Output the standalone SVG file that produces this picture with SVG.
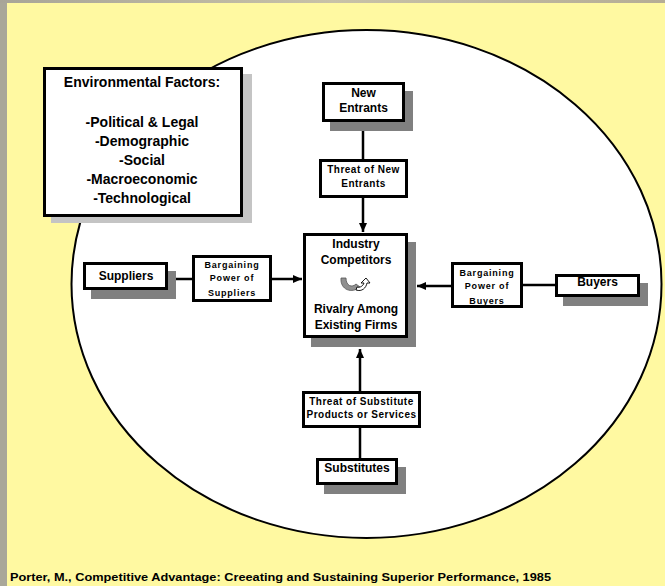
<svg xmlns="http://www.w3.org/2000/svg" width="665" height="586" viewBox="0 0 665 586">
<defs>
<linearGradient id="topbar" x1="0" y1="0" x2="1" y2="0">
<stop offset="0" stop-color="#A8A598"/>
<stop offset="0.5" stop-color="#C8C2A8"/>
<stop offset="1" stop-color="#B5AD96"/>
</linearGradient>
<marker id="ah" markerUnits="userSpaceOnUse" markerWidth="10" markerHeight="10" refX="9" refY="5" orient="auto">
<path d="M0,1 L9,5 L0,9 z" fill="#000"/>
</marker>
</defs>
<style>
.box{fill:#fff;stroke:#000;stroke-width:3}
.sh{fill:#808080}
.t{font-family:"Liberation Sans",Arial,sans-serif;font-weight:bold;fill:#000;text-anchor:middle}
.m{font-size:12px}
.s{font-size:9px;letter-spacing:0.8px}
.q{font-size:10px;letter-spacing:0.5px}
.e{font-size:14px}
.c line{stroke:#000;stroke-width:2.5}
</style>
<rect x="0" y="0" width="665" height="586" fill="#A9A799"/>
<rect x="0" y="0" width="665" height="3" fill="url(#topbar)"/>
<rect x="7" y="3" width="658" height="583" fill="#FFF9A1"/>
<ellipse cx="366.5" cy="284" rx="295" ry="254" fill="#fff" stroke="#000" stroke-width="2"/>

<g id="env">
<rect x="51" y="74" width="201" height="149" fill="#C4C4C4"/>
<rect class="box" x="44.5" y="68.5" width="197" height="147"/>
<text class="t e" x="142" y="87">Environmental Factors:</text>
<text class="t e" x="142" y="126.5">-Political &amp; Legal</text>
<text class="t e" x="142" y="145.5">-Demographic</text>
<text class="t e" x="142" y="164.5">-Social</text>
<text class="t e" x="142" y="183.5">-Macroeconomic</text>
<text class="t e" x="142" y="202.5">-Technological</text>
</g>

<g class="c" id="connectors">
<line x1="363" y1="122" x2="363" y2="159"/>
<line x1="363" y1="198" x2="363" y2="232" marker-end="url(#ah)"/>
<line x1="168" y1="279" x2="192" y2="279"/>
<line x1="272" y1="279" x2="302" y2="279" marker-end="url(#ah)"/>
<line x1="555" y1="285" x2="523" y2="285"/>
<line x1="451" y1="286" x2="417" y2="286" marker-end="url(#ah)"/>
<line x1="360" y1="458" x2="360" y2="428"/>
<line x1="360" y1="391" x2="360" y2="349" marker-end="url(#ah)"/>
</g>

<g id="new-entrants">
<rect class="sh" x="330" y="91" width="83" height="40"/>
<rect class="box" x="323.5" y="83.5" width="80" height="37"/>
<text class="t m" x="363.5" y="97">New</text>
<text class="t m" x="363.5" y="112">Entrants</text>
</g>

<g id="threat-new">
<rect class="box" x="320.5" y="160.5" width="86" height="36"/>
<text class="t q" x="363.5" y="172.5">Threat of New</text>
<text class="t q" x="363.5" y="186.5">Entrants</text>
</g>

<g id="industry">
<rect class="sh" x="311" y="242" width="105" height="105"/>
<rect class="box" x="304.5" y="234.5" width="102" height="102"/>
<text class="t m" x="356" y="248">Industry</text>
<text class="t m" x="356" y="264">Competitors</text>
<path d="M341,278 C340,290 352,294 360,287 L356,284 C352,288 346,286 346,278 Z" fill="#909090" stroke="#555" stroke-width="0.8"/>
<path d="M356,290 C362,292 366,288 367,283 L370,283 L366,278 L361,283 L364,283 C363,286 360,288 357,287 Z" fill="#fff" stroke="#000" stroke-width="0.9"/>
<text class="t m" x="356" y="313">Rivalry Among</text>
<text class="t m" x="356" y="329">Existing Firms</text>
</g>

<g id="suppliers">
<rect class="sh" x="91" y="271" width="85" height="28"/>
<rect class="box" x="84.5" y="263.5" width="82" height="25"/>
<text class="t m" x="126" y="280">Suppliers</text>
</g>

<g id="bargaining-suppliers">
<rect class="box" x="193.5" y="256.5" width="77" height="44"/>
<text class="t s" x="232" y="268">Bargaining</text>
<text class="t s" x="232" y="281">Power of</text>
<text class="t s" x="232" y="296">Suppliers</text>
</g>

<g id="bargaining-buyers">
<rect class="box" x="452.5" y="263.5" width="69" height="43"/>
<text class="t s" x="487" y="276">Bargaining</text>
<text class="t s" x="487" y="289">Power of</text>
<text class="t s" x="487" y="304">Buyers</text>
</g>

<g id="buyers">
<rect class="sh" x="563" y="283" width="85" height="23"/>
<rect class="box" x="556.5" y="275.5" width="82" height="20"/>
<text class="t m" x="597.5" y="286">Buyers</text>
</g>

<g id="threat-substitute">
<rect class="box" x="303.5" y="392.5" width="116" height="34"/>
<text class="t q" x="361.5" y="404.5">Threat of Substitute</text>
<text class="t q" x="361.5" y="417.5">Products or Services</text>
</g>

<g id="substitutes">
<rect class="sh" x="324" y="467" width="82" height="27"/>
<rect class="box" x="317.5" y="459.5" width="79" height="24"/>
<text class="t m" x="357" y="472">Substitutes</text>
</g>

<text class="t" style="font-size:10px;text-anchor:start" x="10" y="581" textLength="541" lengthAdjust="spacingAndGlyphs">Porter, M., Competitive Advantage: Creeating and Sustaining Superior Performance, 1985</text>
</svg>
